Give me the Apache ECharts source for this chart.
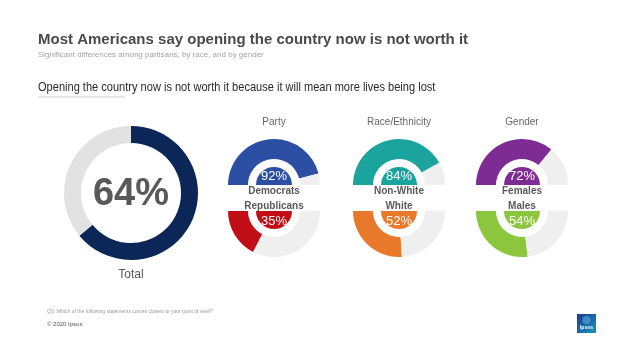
<!DOCTYPE html>
<html>
<head>
<meta charset="utf-8">
<script src="https://cdn.jsdelivr.net/npm/echarts@6/dist/echarts.min.js"></script>
<style>
  html, body { margin: 0; padding: 0; background: #fff; }
  #chart { width: 638px; height: 351px; }
</style>
</head>
<body>
<div id="chart"></div>
<script>
// values
var totalLabel = 'Total';
var totalValue = 64;
var groups = ['Party', 'Race/Ethnicity', 'Gender'];
var topLabels = ['Democrats', 'Non-White', 'Females'];
var topValues = [92, 84, 72];
var bottomLabels = ['Republicans', 'White', 'Males'];
var bottomValues = [35, 52, 54];

var topColors = ['#2d4fa3', '#1ba39e', '#7e2b93'];
var bottomColors = ['#c00d16', '#e8792b', '#8cc63e'];
var groupX = [274, 399, 522];
var topY = 185, bottomY = 211;

var chart = echarts.init(document.getElementById('chart'));

var series = [{
  type: 'pie',
  silent: true,
  center: [131, 193],
  radius: [50, 67],
  startAngle: 90,
  label: { show: false },
  labelLine: { show: false },
  data: [
    { value: totalValue, itemStyle: { color: '#0c2657' } },
    { value: 100 - totalValue, itemStyle: { color: '#e2e2e2' } }
  ]
}];

var texts = [
  { x: 38, y: 40, text: 'Most Americans say opening the country now is not worth it', font: 'bold 15px "Liberation Sans", Arial', fill: '#4a4a4a', align: 'left' },
  { x: 38, y: 55, text: 'Significant differences among partisans, by race, and by gender', font: '8px "Liberation Sans", Arial', fill: '#a3a3a3', align: 'left' },
  { x: 38, y: 87, text: 'Opening the country now is not worth it because it will mean more lives being lost', font: '13px "Liberation Sans", Arial', fill: '#2a2a2a', align: 'left', sx: 0.85 },
  { x: 131, y: 195, text: totalValue + '%', font: 'bold 38px "Liberation Sans", Arial', fill: '#595959', align: 'center' },
  { x: 131, y: 275, text: totalLabel, font: '12px "Liberation Sans", Arial', fill: '#595959', align: 'center' },
  { x: 47, y: 312, text: 'Q3. Which of the following statements comes closest to your point of view?', font: '5px "Liberation Sans", Arial', fill: '#9a9a9a', align: 'left' },
  { x: 47, y: 324, text: '\u00a9 2020 Ipsos', font: '6px "Liberation Sans", Arial', fill: '#555555', align: 'left' }
];

var badgeFont = '13px "Liberation Sans", Arial';

groups.forEach(function (g, i) {
  var cx = groupX[i];
  // upper half ring
  series.push({
    type: 'pie', silent: true, center: [cx, topY], radius: [26, 46],
    startAngle: 180, endAngle: 0, clockwise: true,
    label: { show: false }, labelLine: { show: false },
    data: [
      { value: topValues[i], itemStyle: { color: topColors[i] } },
      { value: 100 - topValues[i], itemStyle: { color: '#efefef' } }
    ]
  });
  // upper badge
  series.push({
    type: 'pie', silent: true, center: [cx, topY], radius: [0, 18],
    startAngle: 180, endAngle: 0, clockwise: true,
    label: { show: false }, labelLine: { show: false },
    data: [{ value: topValues[i], itemStyle: { color: topColors[i] } }]
  });
  // lower half ring
  series.push({
    type: 'pie', silent: true, center: [cx, bottomY], radius: [26, 46],
    startAngle: 180, endAngle: 360, clockwise: false,
    label: { show: false }, labelLine: { show: false },
    data: [
      { value: bottomValues[i], itemStyle: { color: bottomColors[i] } },
      { value: 100 - bottomValues[i], itemStyle: { color: '#efefef' } }
    ]
  });
  series.push({
    type: 'pie', silent: true, center: [cx, bottomY], radius: [0, 18],
    startAngle: 180, endAngle: 360, clockwise: false,
    label: { show: false }, labelLine: { show: false },
    data: [{ value: bottomValues[i], itemStyle: { color: bottomColors[i] } }]
  });

  texts.push({ x: cx, y: 122, text: g, font: '10px "Liberation Sans", Arial', fill: '#666666', align: 'center' });
  texts.push({ x: cx, y: topY - 8.5, text: topValues[i] + '%', font: badgeFont, fill: '#ffffff', align: 'center' });
  texts.push({ x: cx, y: 191.5, text: topLabels[i], font: 'bold 10px "Liberation Sans", Arial', fill: '#5a5a5a', align: 'center' });
  texts.push({ x: cx, y: 206, text: bottomLabels[i], font: 'bold 10px "Liberation Sans", Arial', fill: '#5a5a5a', align: 'center' });
  texts.push({ x: cx, y: bottomY + 10, text: bottomValues[i] + '%', font: badgeFont, fill: '#ffffff', align: 'center' });
});

var graphics = texts.map(function (t) {
  return {
    type: 'text', x: t.x, y: t.y, scaleX: t.sx || 1, silent: true, z: 100,
    style: { text: t.text, font: t.font, fill: t.fill, textAlign: t.align, textVerticalAlign: 'middle' }
  };
});

// short rule under the sub heading
graphics.push({ type: 'line', silent: true, shape: { x1: 38, y1: 97, x2: 125, y2: 97 }, style: { stroke: '#cfcfcf', lineWidth: 1 } });

// ipsos logo
graphics.push({
  type: 'rect', silent: true, shape: { x: 577, y: 314, width: 19, height: 19 },
  style: { fill: new echarts.graphic.LinearGradient(0, 0, 1, 1, [
    { offset: 0, color: '#1d3b8f' }, { offset: 1, color: '#1596b8' }
  ]) }
});
graphics.push({
  type: 'circle', silent: true, shape: { cx: 586.5, cy: 320, r: 4 },
  style: { fill: 'rgba(90,170,230,0.6)' }
});
graphics.push({
  type: 'text', silent: true, x: 586.5, y: 328,
  style: { text: 'Ipsos', font: 'bold 5px "Liberation Sans", Arial', fill: '#fff', textAlign: 'center', textVerticalAlign: 'middle' }
});

chart.setOption({
  backgroundColor: '#fff',
  animation: false,
  series: series,
  graphic: graphics
});
</script>
</body>
</html>
